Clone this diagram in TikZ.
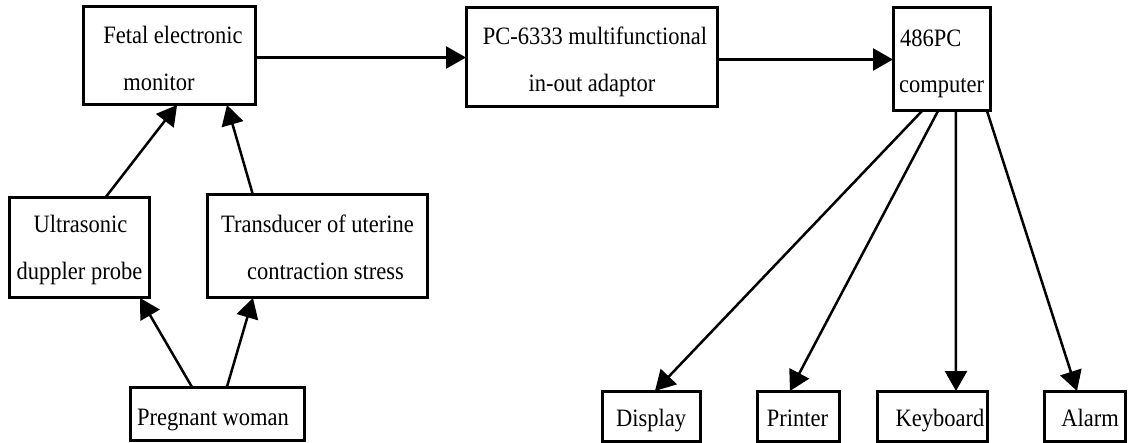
\documentclass[tikz,border=0pt]{standalone}
\usepackage{fontspec}
\setmainfont{Liberation Serif}[FakeStretch=0.9]
\usetikzlibrary{arrows.meta,calc}

\tikzset{
  blk/.style={draw=black, line width=3pt, rectangle, inner sep=0pt, outer sep=0pt},
  lbl/.style={inner sep=0pt, outer sep=0pt, anchor=base, font=\fontsize{25}{28}\selectfont},
  lbll/.style={lbl, anchor=base west},
  arr/.style={draw=black, line width=2.5pt, -{Triangle[length=20pt, width=22pt]}},
}

% block placed by its pixel corners (x1,y1) -- (x2,y2)
\newcommand{\blockat}[5]{%
  \node[blk, minimum width={#4-#2}, minimum height={#5-#3}] (#1) at ({(#2+#4)/2},{(#3+#5)/2}) {};}

\begin{document}
\begin{tikzpicture}[x=1pt, y=-1pt]
\useasboundingbox (0,0) rectangle (1129,443);

% blocks
\blockat{fetal}{83}{7}{255}{105}
\blockat{pc}{466}{8}{717}{107}
\blockat{comp}{893}{8}{990}{111}
\blockat{ultra}{9}{198}{149}{298}
\blockat{trans}{207}{195}{427}{298}
\blockat{preg}{130}{387}{304}{440}
\blockat{disp}{602}{391}{700}{441}
\blockat{prin}{757}{391}{839}{441}
\blockat{keyb}{877}{391}{987}{441}
\blockat{alarm}{1044}{391}{1125}{441}

% texts
\node[lbl] (fetalA) at (173,44) {Fetal electronic};
\node[lbl] (fetalB) at (159,91) {monitor};
\node[lbl] (pcA) at (595,45) {PC-6333 multifunctional};
\node[lbl] (pcB) at (592,92) {in-out adaptor};
\node[lbll] (compA) at (900,47) {486PC};
\node[lbll] (compB) at (899,93) {computer};
\node[lbl] (ultraA) at (80.5,233) {Ultrasonic};
\node[lbl] (ultraB) at (79.5,280) {duppler probe};
\node[lbl] (transA) at (317.5,233) {Transducer of uterine};
\node[lbl] (transB) at (325.5,280) {contraction stress};
\node[lbl] (pregA) at (213,425) {Pregnant woman};
\node[lbl] (dispA) at (651,426) {Display};
\node[lbl] (prinA) at (797.5,426) {Printer};
\node[lbl] (keybA) at (940,426) {Keyboard};
\node[lbl] (alarmA) at (1090,426) {Alarm};

% connectors
\draw[arr] (fetal.east |- pc.west) -- (pc.west);
\draw[arr] (pc.east |- comp.west) -- (comp.west);

\draw[arr] ($(ultra.north west)!0.686!(ultra.north east)$) -- ($(fetal.south west)!0.547!(fetal.south east)$);
\draw[arr] ($(trans.north west)!0.209!(trans.north east)$) -- ($(fetal.south west)!0.837!(fetal.south east)$);
\draw[arr] ($(preg.north west)!0.356!(preg.north east)$) -- ($(ultra.south west)!0.936!(ultra.south east)$);
\draw[arr] ($(preg.north west)!0.557!(preg.north east)$) -- ($(trans.south west)!0.209!(trans.south east)$);

\draw[arr] ($(comp.south west)!0.299!(comp.south east)$) -- ($(disp.north west)!0.541!(disp.north east)$);
\draw[arr] ($(comp.south west)!0.464!(comp.south east)$) -- ($(prin.north west)!0.402!(prin.north east)$);
\draw[arr] ($(comp.south west)!0.649!(comp.south east)$) -- ($(keyb.north west)!0.718!(keyb.north east)$);
\draw[arr] ($(comp.south west)!0.969!(comp.south east)$) -- ($(alarm.north west)!0.407!(alarm.north east)$);
\end{tikzpicture}
\end{document}
